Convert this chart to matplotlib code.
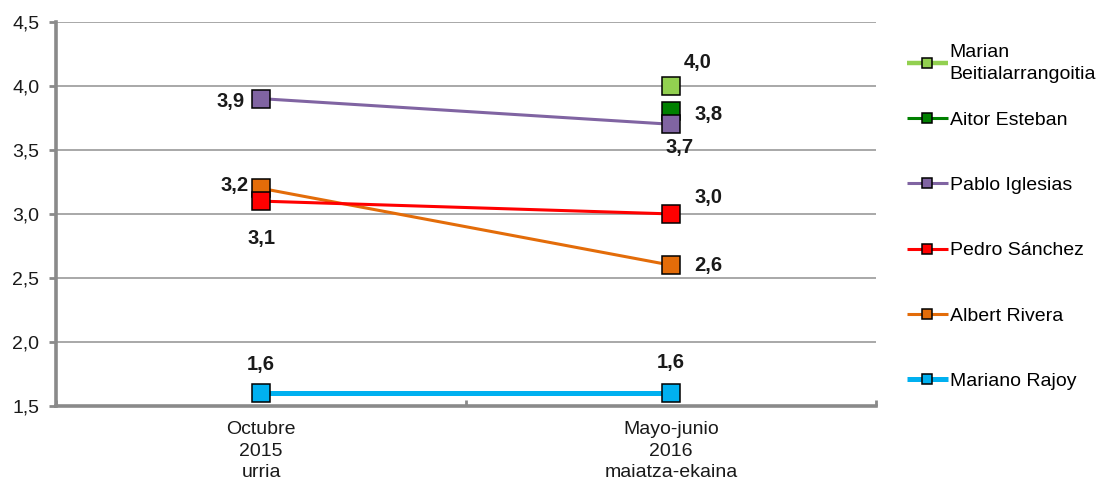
import numpy as np
import matplotlib
matplotlib.use('Agg')
from matplotlib import pyplot as plt
from matplotlib.ticker import FuncFormatter, FixedLocator

plt.rcParams['font.family'] = ['Liberation Sans', 'DejaVu Sans']

periods = ['Octubre\n2015\nurria', 'Mayo-junio\n2016\nmaiatza-ekaina']
names = ['Marian\nBeitialarrangoitia', 'Aitor Esteban', 'Pablo Iglesias',
         'Pedro Sánchez', 'Albert Rivera', 'Mariano Rajoy']
marian = [np.nan, 4.0]
aitor = [np.nan, 3.8]
pablo = [3.9, 3.7]
pedro = [3.1, 3.0]
albert = [3.2, 2.6]
rajoy = [1.6, 1.6]
series = [marian, aitor, pablo, pedro, albert, rajoy]

colors = ['#92D050', '#008000', '#8064A2', '#FF0000', '#E36C09', '#00B0F0']
widths = [3.2, 2.2, 2.2, 2.2, 2.2, 3.6]
zorders = [3, 3, 4, 5, 4, 3]
# label offsets in points (dx, dy) for each series at each period
offsets = [
    [None, (19, 17)],
    [None, (27, -2)],
    [(-22, -2), (6, -17)],
    [(0, -27), (27, 12)],
    [(-19, 2), (27, 0)],
    [(0, 21), (0, 22)],
]

fig = plt.figure(figsize=(11.05, 4.84), dpi=100)
ax = fig.add_axes([0.0507, 0.161, 0.742, 0.794])

x = np.arange(len(periods))
handles = []
for s, name, c, lw, z, offs in zip(series, names, colors, widths, zorders, offsets):
    h, = ax.plot(x, s, color=c, lw=lw, marker='s', markersize=12.5,
                 markerfacecolor=c, markeredgecolor='black', markeredgewidth=1.1,
                 zorder=z, label=name, solid_capstyle='butt')
    handles.append(h)
    for xi, v, off in zip(x, s, offs):
        if off is None or np.isnan(v):
            continue
        ax.annotate(f'{v:.1f}'.replace('.', ','), (xi, v), xytext=off,
                    textcoords='offset points', ha='center', va='center',
                    fontsize=14.5, fontweight='bold', color='#1a1a1a', zorder=6)

ax.set_xlim(-0.5, 1.5)
ax.set_ylim(1.5, 4.5)
ax.set_yticks(np.arange(1.5, 4.51, 0.5))
ax.yaxis.set_major_formatter(FuncFormatter(lambda v, p: f'{v:.1f}'.replace('.', ',')))
ax.grid(axis='y', color='#9a9a9a', lw=1.2, zorder=0)
ax.set_axisbelow(True)

ax.set_xticks(x)
ax.set_xticklabels(periods, fontsize=14, color='#1a1a1a', linespacing=1.35)
ax.xaxis.set_minor_locator(FixedLocator([-0.5, 0.5, 1.5]))
ax.tick_params(axis='x', which='major', length=0, pad=11)
ax.tick_params(axis='x', which='minor', length=4, width=2, color='#8a8a8a', direction='in')
ax.tick_params(axis='y', length=5, width=2, color='#8a8a8a', labelsize=14,
               labelcolor='#1a1a1a', pad=7)

for side in ['top', 'right']:
    ax.spines[side].set_visible(False)
for side in ['left', 'bottom']:
    ax.spines[side].set_color('#8a8a8a')
    ax.spines[side].set_linewidth(2.6)

leg_kw = dict(loc='upper left', frameon=False, fontsize=14, handlelength=2.1,
              handletextpad=0.1, borderpad=0, borderaxespad=0, markerscale=0.55)
leg1 = fig.legend(handles=handles[:1], bbox_to_anchor=(0.8208, 0.91), **leg_kw)
for t in leg1.get_texts():
    t.set_linespacing(1.45)
fig.legend(handles=handles[1:], bbox_to_anchor=(0.8208, 0.77),
           labelspacing=2.45, **leg_kw)

fig.savefig('out.png', dpi=100)
